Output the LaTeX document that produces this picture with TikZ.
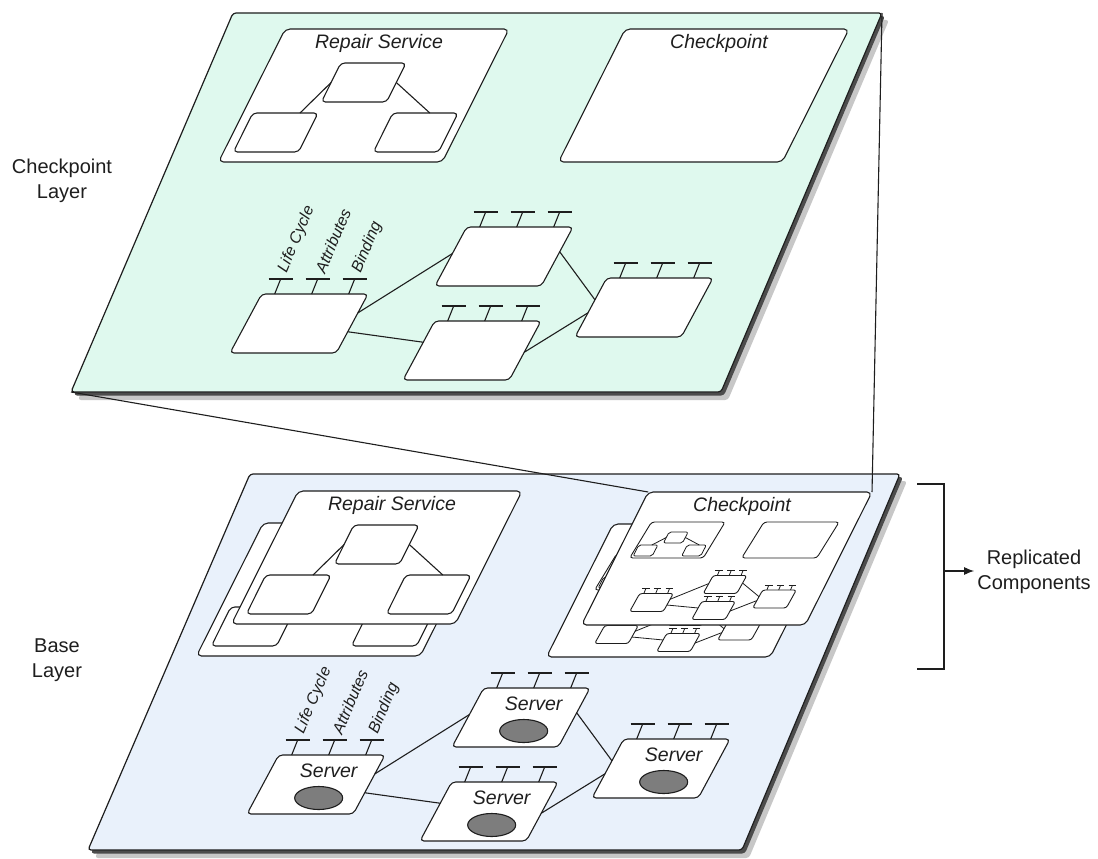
\documentclass[tikz,border=0pt]{standalone}
\usepackage{fontspec}
\setmainfont{Liberation Sans}
\usetikzlibrary{shapes.geometric,calc,arrows.meta}

\definecolor{topfill}{RGB}{223,249,238}
\definecolor{basefill}{RGB}{233,241,251}
\definecolor{ink}{RGB}{30,30,30}
\definecolor{ovalgray}{RGB}{125,125,125}

\tikzset{
 pg/.style={trapezium, trapezium left angle=67, trapezium right angle=113,
   trapezium stretches=true, draw=ink, fill=white, inner sep=1pt, outer sep=0pt, line width=1.1pt},
 bigbox/.style={pg, minimum width=290.5pt, minimum height=133pt, rounded corners=5pt},
 innerbox/.style={pg, minimum width=84.6pt, minimum height=39pt, rounded corners=4pt},
 srv/.style={pg, minimum width=138pt, minimum height=59pt, rounded corners=4pt},
 minibox/.style={pg, minimum width=95.5pt, minimum height=36pt, rounded corners=3pt, line width=0.9pt},
 tinybox/.style={pg, minimum width=24.7pt, minimum height=11pt, rounded corners=2pt, line width=0.8pt},
 minisrv/.style={pg, minimum width=43.6pt, minimum height=18pt, rounded corners=2.5pt, line width=0.9pt},
 wire/.style={draw=ink, line width=1.1pt},
 thinwire/.style={draw=ink, line width=0.8pt},
 layerpoly/.style={draw=ink, line width=1.2pt, rounded corners=3pt},
 boxtitle/.style={font=\fontsize{19.5}{23}\selectfont\itshape, inner sep=0pt, text=ink},
 srvlbl/.style={font=\fontsize{19.5}{23}\selectfont\itshape, inner sep=0pt, text=ink},
 portlbl/.style={font=\fontsize{16}{19}\selectfont\itshape, inner sep=0pt, rotate=67, anchor=west, text=ink},
 sidelbl/.style={font=\fontsize{20}{25}\selectfont, align=center, inner sep=0pt, text=ink},
 ovalnode/.style={ellipse, draw=ink, fill=ovalgray, minimum width=48pt, minimum height=23pt, inner sep=0pt, line width=1.1pt},
}

% Repair Service group: #1 prefix, (#2,#3) top-left corner
\newcommand\dgRepair[3]{%
  \node[bigbox] (#1) at (#2+88.75, #3+66.5) {};
  \node[boxtitle] (#1t) at (#2+104, #3+14) {Repair Service};
  \node[innerbox] (#1a) at (#2+88.7, #3+53.5) {};
  \node[innerbox] (#1b) at (#2+0.7, #3+103.5) {};
  \node[innerbox] (#1c) at (#2+140.7, #3+103.5) {};
  \draw[wire] (#1a.left side) -- ($(#1b.top right corner)+(-18,0)$);
  \draw[wire] (#1a.right side) -- ($(#1c.top left corner)+(37,0)$);
}
% Checkpoint box: #1 prefix, (#2,#3) top-left corner
\newcommand\dgCk[3]{%
  \node[bigbox] (#1) at (#2+88.75, #3+66.5) {};
  \node[boxtitle] (#1t) at (#2+104, #3+14) {Checkpoint};
}
% server connectors: #1 prefix, #2 style
\newcommand\dgWires[2]{%
  \draw[#2] ($(#11.top right corner)!0.32!(#11.bottom right corner)$) -- ($(#12.top left corner)!0.45!(#12.bottom left corner)$);
  \draw[#2] ($(#11.top right corner)!0.64!(#11.bottom right corner)$) -- ($(#13.top left corner)!0.36!(#13.bottom left corner)$);
  \draw[#2] ($(#12.top right corner)!0.42!(#12.bottom right corner)$) -- ($(#14.top left corner)!0.37!(#14.bottom left corner)$);
  \draw[#2] ($(#13.top right corner)!0.53!(#13.bottom right corner)$) -- ($(#14.top left corner)!0.59!(#14.bottom left corner)$);
}
% ports: #1 node, #2 scale, #3 style
\newcommand\dgPorts[3]{%
  \foreach \d in {13,50,87}{%
    \draw[#3] ($(#1.top left corner)+(#2*\d,0)$) -- ++(#2*6,-#2*15) coordinate (pq);
    \draw[#3] ($(pq)+(-#2*12,0)$) -- ++(#2*24,0);
  }%
}
\newcommand\dgPortLabels[1]{%
  \node[portlbl] (#1l1) at ($(#1.top left corner)+(21,-22)$) {Life Cycle};
  \node[portlbl] (#1l2) at ($(#1.top left corner)+(58,-22)$) {Attributes};
  \node[portlbl] (#1l3) at ($(#1.top left corner)+(95,-22)$) {Binding};
}
% miniature checkpoint content: #1 prefix, (#2,#3) top-left of checkpoint box
\newcommand\dgMini[3]{%
  \node[minibox] (#1r) at (#2+39.4, #3+48) {};
  \node[tinybox] (#1ra) at (#2+37.8, #3+45.5) {};
  \node[tinybox] (#1rb) at (#2+7.5, #3+58.5) {};
  \node[tinybox] (#1rc) at (#2+56, #3+58.5) {};
  \draw[thinwire] (#1ra.left side) -- ($(#1rb.top right corner)+(-6,0)$);
  \draw[thinwire] (#1ra.right side) -- ($(#1rc.top left corner)+(12,0)$);
  \node[minibox, minimum width=97.5pt] (#1c) at (#2+152.4, #3+48) {};
  \node[minisrv] (#1s1) at (#2+13.5, #3+110.5) {};
  \node[minisrv] (#1s2) at (#2+87, #3+92.5) {};
  \node[minisrv] (#1s3) at (#2+75.5, #3+118.5) {};
  \node[minisrv] (#1s4) at (#2+136.5, #3+107) {};
  \dgWires{#1s}{thinwire}
  \dgPorts{#1s1}{0.32}{thinwire}
  \dgPorts{#1s2}{0.32}{thinwire}
  \dgPorts{#1s3}{0.32}{thinwire}
  \dgPorts{#1s4}{0.32}{thinwire}
}

\begin{document}
\begin{tikzpicture}[x=1pt,y=-1pt]
\useasboundingbox (0,0) rectangle (1098,859);
\fill[white] (0,0) rectangle (1098,859);

%================ TOP (checkpoint) layer
\fill[black!22, rounded corners=3pt] (239,20) -- (889,20) -- (728,400) -- (78,400) -- cycle;
\fill[black!70, rounded corners=3pt] (235,16) -- (885,16) -- (724,395.5) -- (74,395.5) -- cycle;
\draw[layerpoly, fill=topfill] (233,13) coordinate (tTL) -- (882,13) coordinate (tTR)
   -- (721,392) coordinate (tBR) -- (71,392) coordinate (tBL) -- cycle;

\dgRepair{tR}{275}{29}
\dgCk{tC}{615}{29}

\node[srv] (tS1) at (299,323.5) {};
\node[srv] (tS2) at (504,256.5) {};
\node[srv] (tS3) at (472,350.5) {};
\node[srv] (tS4) at (644,307.5) {};
\dgWires{tS}{wire}
\dgPorts{tS1}{1}{wire}
\dgPorts{tS2}{1}{wire}
\dgPorts{tS3}{1}{wire}
\dgPorts{tS4}{1}{wire}
\dgPortLabels{tS1}

\node[sidelbl] (lblCk) at (62,180.5) {Checkpoint\\Layer};

%================ BASE layer
\fill[black!22, rounded corners=3pt] (256,481) -- (907,481) -- (749,858) -- (95,858) -- cycle;
\fill[black!70, rounded corners=3pt] (252,477) -- (903,477) -- (745,853.5) -- (91,853.5) -- cycle;
\draw[layerpoly, fill=basefill] (250,474) coordinate (bTL) -- (900,474) coordinate (bTR)
   -- (742,850) coordinate (bBR) -- (88,850) coordinate (bBL) -- cycle;

\dgRepair{bRB}{253}{523}
\dgRepair{bR}{288}{491}

\dgCk{bCB}{603}{524}
\dgMini{bCBm}{603}{524}
\dgCk{bC}{638}{492}
\dgMini{bCm}{638}{492}

\node[srv] (bS1) at (316,784.5) {};
\node[srv] (bS2) at (521,717.5) {};
\node[srv] (bS3) at (489,811.5) {};
\node[srv] (bS4) at (661,768.5) {};
\dgWires{bS}{wire}
\foreach \s in {1,2,3,4}{%
  \dgPorts{bS\s}{1}{wire}
  \node[srvlbl] (bS\s n) at ($(bS\s.top left corner)+(50,16)$) {Server};
  \node[ovalnode] (bS\s o) at ($(bS\s.top left corner)+(40,43)$) {};
}
\dgPortLabels{bS1}

\node[sidelbl] (lblBase) at (57,660.5) {Base\\Layer};

%================ projection lines
\draw[wire] (tBL) -- (bC.top left corner);
\draw[wire] (tTR) -- (bC.top right corner);

%================ bracket
\coordinate (brTL) at (917,484);
\coordinate (brT) at (944,484);
\coordinate (brB) at (944,669);
\coordinate (brBL) at (917,669);
\coordinate (brM) at (944,571);
\draw[wire] (brTL) -- (brT) -- (brB) -- (brBL);
\node[sidelbl] (rep) at (1034,571.5) {Replicated\\Components};
\draw[wire, -{Latex[length=10pt,width=8pt]}] (brM) -- ([xshift=-3pt]rep.west |- brM);
\end{tikzpicture}
\end{document}
